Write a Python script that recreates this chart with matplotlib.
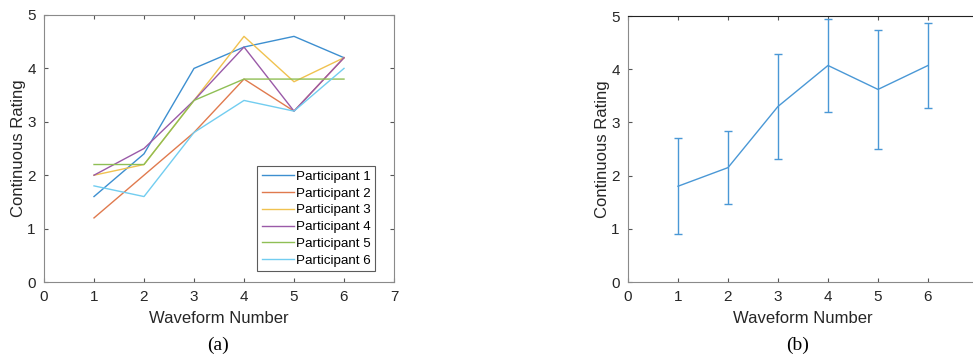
import numpy as np
import matplotlib
matplotlib.use("Agg")
import matplotlib.pyplot as plt

plt.rcParams['font.family'] = ['Liberation Sans', 'DejaVu Sans']

waveforms = [1, 2, 3, 4, 5, 6]
p1 = [1.6, 2.4, 4.0, 4.4, 4.6, 4.2]
p2 = [1.2, 2.0, 2.8, 3.8, 3.2, 4.2]
p3 = [2.0, 2.2, 3.4, 4.6, 3.75, 4.2]
p4 = [2.0, 2.5, 3.4, 4.4, 3.2, 4.2]
p5 = [2.2, 2.2, 3.4, 3.8, 3.8, 3.8]
p6 = [1.8, 1.6, 2.8, 3.4, 3.2, 4.0]
participants = [p1, p2, p3, p4, p5, p6]
labels = ['Participant 1', 'Participant 2', 'Participant 3',
          'Participant 4', 'Participant 5', 'Participant 6']

mean_rating = [1.8, 2.15, 3.3, 4.07, 3.62, 4.07]
err_rating = [0.9, 0.69, 0.98, 0.87, 1.12, 0.79]

colors = ['#3d8fd0', '#e07a4e', '#f0c250', '#9a5aa8', '#8fbf55', '#72cdf0']
axcol = '#555555'
txtcol = '#262626'

W, H = 973, 358
fig = plt.figure(figsize=(W / 100, H / 100), dpi=100)

def style(ax):
    ax.set_xlim(0, 7)
    ax.set_ylim(0, 5)
    ax.set_xticks(range(0, 8))
    ax.set_yticks(range(0, 6))
    ax.tick_params(direction='in', top=True, right=True, length=3,
                   labelsize=11, colors=axcol, labelcolor=txtcol, pad=6)
    for s in ax.spines.values():
        s.set_color('#8a8a8a')
        s.set_linewidth(0.8)
    ax.set_xlabel('Waveform Number', fontsize=12, color=txtcol, labelpad=5)
    ax.set_ylabel('Continuous Rating', fontsize=12, color=txtcol, labelpad=1)

# panel (a)
ax1 = fig.add_axes([44 / W, 1 - 282 / H, 350 / W, 267 / H])
for vals, c, lab in zip(participants, colors, labels):
    ax1.plot(waveforms, vals, color=c, lw=1.0, label=lab)
style(ax1)
leg = ax1.legend(loc='lower right', bbox_to_anchor=(0.947, 0.04), fontsize=9.6,
                 frameon=True, fancybox=False, handlelength=2.4,
                 handletextpad=0.15, labelspacing=0.33, borderpad=0.35,
                 borderaxespad=0)
leg.get_frame().set_edgecolor('#333333')
leg.get_frame().set_linewidth(0.8)

# panel (b)
ax2 = fig.add_axes([628 / W, 1 - 282 / H, 350 / W, 266 / H])
ax2.errorbar(waveforms, mean_rating, yerr=err_rating, color='#4a98d6',
             lw=1.0, elinewidth=1.0, capsize=3, capthick=1.0)
style(ax2)
ax2.set_xticklabels(['0', '1', '2', '3', '4', '5', '6', ''])
ax2.spines['top'].set_color('#222222')

fig.text(218 / W, 1 - 345 / H, '(a)', ha='center', va='center',
         fontsize=14, family=['Liberation Serif', 'DejaVu Serif'])
fig.text(798 / W, 1 - 345 / H, '(b)', ha='center', va='center',
         fontsize=14, family=['Liberation Serif', 'DejaVu Serif'])

fig.savefig('out.png', dpi=100)
